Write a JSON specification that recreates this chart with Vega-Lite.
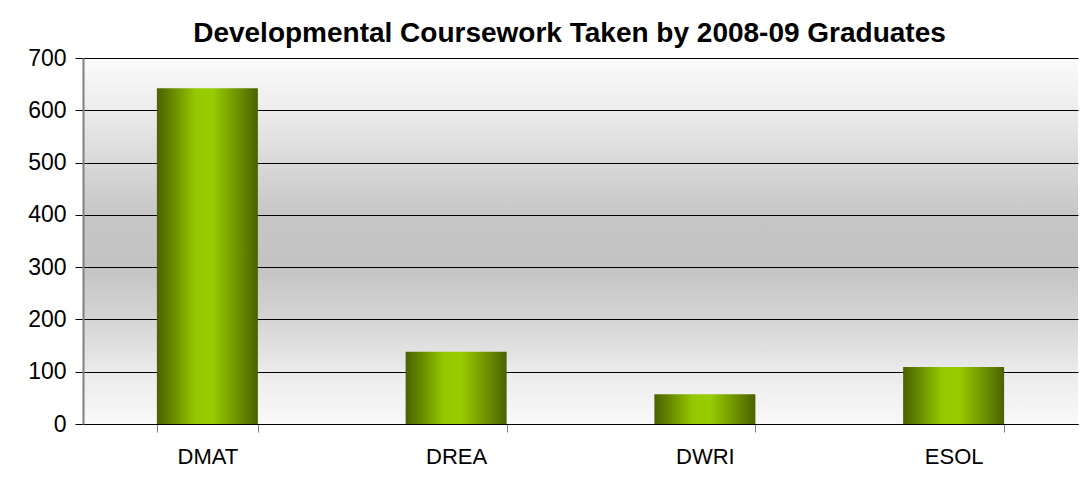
{
  "$schema": "https://vega.github.io/schema/vega-lite/v6.json",
  "autosize": "none",
  "width": 995,
  "height": 366,
  "padding": {"left": 83, "top": 58, "right": 14, "bottom": 80},
  "background": "white",
  "title": {
    "text": "Developmental Coursework Taken by 2008-09 Graduates",
    "font": "Liberation Sans",
    "fontSize": 28,
    "fontWeight": "bold",
    "color": "black",
    "anchor": "middle",
    "baseline": "alphabetic",
    "offset": -23,
    "dx": -11
  },
  "config": {
    "view": {
      "stroke": null,
      "fill": {
        "gradient": "linear",
        "x1": 0, "y1": 0, "x2": 0, "y2": 1,
        "stops": [
          {"offset": 0, "color": "#fbfbfb"},
          {"offset": 0.14, "color": "#ececec"},
          {"offset": 0.29, "color": "#d8d8d8"},
          {"offset": 0.43, "color": "#c6c6c6"},
          {"offset": 0.57, "color": "#c3c3c3"},
          {"offset": 0.71, "color": "#d4d4d4"},
          {"offset": 0.86, "color": "#ebebeb"},
          {"offset": 1, "color": "#f9f9f9"}
        ]
      }
    }
  },
  "data": {
    "values": [
      {"course": "DMAT", "count": 642},
      {"course": "DREA", "count": 138},
      {"course": "DWRI", "count": 57},
      {"course": "ESOL", "count": 109}
    ]
  },
  "mark": {
    "type": "bar",
    "color": {
      "gradient": "linear",
      "x1": 0, "y1": 0, "x2": 1, "y2": 0,
      "stops": [
        {"offset": 0, "color": "#4a6200"},
        {"offset": 0.15, "color": "#668800"},
        {"offset": 0.38, "color": "#96c800"},
        {"offset": 0.55, "color": "#99cc00"},
        {"offset": 0.8, "color": "#6e9200"},
        {"offset": 1, "color": "#4a6200"}
      ]
    }
  },
  "encoding": {
    "x": {
      "field": "course",
      "type": "nominal",
      "sort": null,
      "scale": {"paddingInner": 0.594, "paddingOuter": 0.297},
      "axis": {
        "title": null,
        "labelAngle": 0,
        "labelFont": "Liberation Sans",
        "labelFontSize": 22,
        "labelColor": "black",
        "labelPadding": 14,
        "tickBand": "extent",
        "tickSize": 8,
        "tickColor": "#808080",
        "domainColor": "black",
        "grid": false
      }
    },
    "y": {
      "field": "count",
      "type": "quantitative",
      "scale": {"domain": [0, 700], "nice": false},
      "axis": {
        "title": null,
        "values": [0, 100, 200, 300, 400, 500, 600, 700],
        "labelFont": "Liberation Sans",
        "labelFontSize": 23,
        "labelColor": "black",
        "labelPadding": 9,
        "tickSize": 8,
        "tickColor": "black",
        "domainColor": "#808080",
        "domainWidth": 2,
        "grid": true,
        "gridColor": "black",
        "gridOpacity": 1,
        "gridWidth": 1
      }
    }
  }
}
